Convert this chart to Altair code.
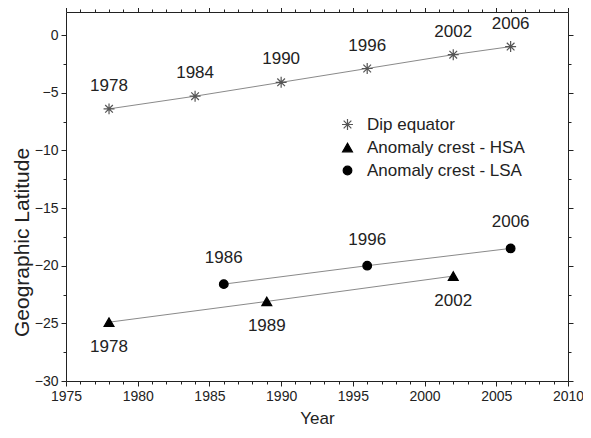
import altair as alt
import pandas as pd

series_names = ["Dip equator", "Anomaly crest - HSA", "Anomaly crest - LSA"]

dip_years = [1978, 1984, 1990, 1996, 2002, 2006]
dip_lat = [-6.4, -5.3, -4.1, -2.9, -1.7, -1.0]

hsa_years = [1978, 1989, 2002]
hsa_lat = [-24.9, -23.1, -20.9]

lsa_years = [1986, 1996, 2006]
lsa_lat = [-21.6, -20.0, -18.5]

x_ticks = list(range(1975, 2011))
y_ticks = [-30 + 2.5 * i for i in range(13)]

rows = []
for name, yrs, lats in [(series_names[0], dip_years, dip_lat),
                        (series_names[1], hsa_years, hsa_lat),
                        (series_names[2], lsa_years, lsa_lat)]:
    for yv, lv in zip(yrs, lats):
        rows.append({"series": name, "year": yv, "lat": lv})
df = pd.DataFrame(rows)

FONT = "Liberation Sans"
AX = "#222222"

xscale = alt.Scale(domain=[1975, 2010], nice=False, zero=False)
yscale = alt.Scale(domain=[-30, 2], nice=False, zero=False)

x_tick_size = {"condition": {"test": "datum.value % 5 === 0", "value": 5}, "value": 3}
y_tick_size = {"condition": {"test": "datum.value % 5 === 0", "value": 5}, "value": 3}

common_axis = dict(grid=False, domainColor=AX, tickColor=AX, domainWidth=1, tickWidth=1,
                   labelFont=FONT, labelColor=AX, titleFont=FONT, titleColor=AX,
                   titleFontWeight="normal", labelOverlap=False, labelFlush=False)

x_bottom = alt.X("year:Q", scale=xscale,
                 axis=alt.Axis(values=x_ticks, format="d",
                               labelExpr="datum.value % 5 === 0 ? datum.label : ''",
                               tickSize=x_tick_size, labelFontSize=14, labelPadding=3,
                               title="Year", titleFontSize=17, titlePadding=7,
                               **common_axis))
y_left = alt.Y("lat:Q", scale=yscale,
               axis=alt.Axis(values=y_ticks,
                             labelExpr="datum.value % 5 === 0 ? datum.label : ''",
                             tickSize=y_tick_size, labelFontSize=14, labelPadding=3,
                             title="Geographic Latitude", titleFontSize=21, titlePadding=2,
                             titleY=230,
                             **common_axis))

x_top = alt.X("year:Q", scale=xscale,
              axis=alt.Axis(orient="top", values=x_ticks, labels=False, title=None,
                            tickSize=x_tick_size, grid=False, domainColor=AX, tickColor=AX))
y_right = alt.Y("lat:Q", scale=yscale,
                axis=alt.Axis(orient="right", values=y_ticks, labels=False, title=None,
                              tickSize=y_tick_size, grid=False, domainColor=AX, tickColor=AX))

x_plain = alt.X("year:Q", scale=xscale, axis=None)
y_plain = alt.Y("lat:Q", scale=yscale, axis=None)

base = alt.Chart(df)

lines = base.mark_line(color="#8a8a8a", strokeWidth=1).encode(
    x=x_bottom, y=y_left, detail="series:N", order="year:Q")

asterisk = "M-1,0L1,0M0,-1L0,1M-0.7,-0.7L0.7,0.7M-0.7,0.7L0.7,-0.7"
legend = alt.Legend(title=None, orient="none", legendX=273, legendY=104,
                    labelFont=FONT, labelFontSize=17, labelColor=AX,
                    symbolStrokeWidth=1.2, rowPadding=5, labelOffset=11)
points = base.mark_point(filled=True, opacity=1, strokeWidth=1.2).encode(
    x=x_plain,
    y=y_plain,
    shape=alt.Shape("series:N", scale=alt.Scale(domain=series_names,
                                                range=[asterisk, "triangle-up", "circle"]),
                    legend=legend),
    fill=alt.Fill("series:N", scale=alt.Scale(domain=series_names,
                                              range=["#555555", "#000000", "#000000"]),
                  legend=legend),
    stroke=alt.Stroke("series:N", scale=alt.Scale(domain=series_names,
                                                  range=["#555555", "#000000", "#000000"]),
                      legend=legend),
    size=alt.Size("series:N", scale=alt.Scale(domain=series_names, range=[120, 75, 65]),
                  legend=legend),
)

text_style = dict(font=FONT, fontSize=17, color=AX)
dip_text = base.transform_filter(alt.datum.series == series_names[0]).mark_text(
    dy=-23, **text_style).encode(x=x_plain, y=y_plain, text=alt.Text("year:Q", format="d"))
hsa_text = base.transform_filter(alt.datum.series == series_names[1]).mark_text(
    dy=25, **text_style).encode(x=x_plain, y=y_plain, text=alt.Text("year:Q", format="d"))
lsa_text = base.transform_filter(alt.datum.series == series_names[2]).mark_text(
    dy=-26, **text_style).encode(x=x_plain, y=y_plain, text=alt.Text("year:Q", format="d"))

mirror = base.mark_point(opacity=0).encode(x=x_top, y=y_right)

chart = alt.layer(lines, points, dip_text, hsa_text, lsa_text, mirror).resolve_axis(
    x="independent", y="independent"
).properties(
    width=502, height=369,
    autosize=alt.AutoSizeParams(type="none"),
    padding={"left": 58, "top": 4, "right": 15, "bottom": 45},
    background="white",
).configure_view(stroke=None)

chart.save("out.html", embed_options={"renderer": "svg", "actions": False})
